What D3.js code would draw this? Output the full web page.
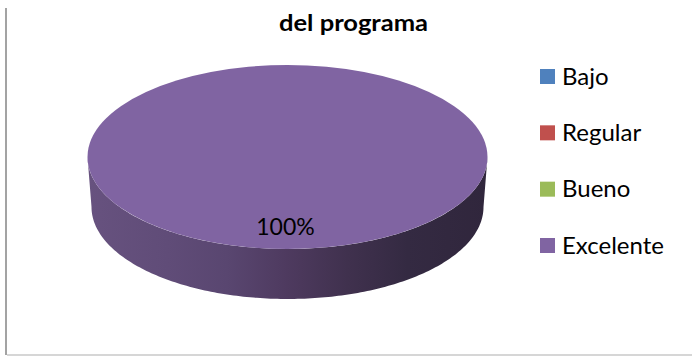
<!DOCTYPE html>
<html><head><meta charset="utf-8">
<script src="https://cdn.jsdelivr.net/npm/d3@7/dist/d3.min.js"></script>
<style>html,body{margin:0;padding:0;background:#fff}svg{display:block}text{font-family:Lato,"Open Sans",sans-serif;fill:#000}</style>
</head><body><svg id="c" width="692" height="356"></svg>
<script>
const categories = ["Bajo","Regular","Bueno","Excelente"];
const values = [0,0,0,100];
const colors = ["#4f81bd","#c0504d","#9bbb59","#8064a2"];
const titleText = "del programa";
const sideStops = [[0,"#67527f"],[0.2,"#604c78"],[0.35,"#594670"],[0.5,"#4e3a5f"],[0.65,"#40314e"],[0.8,"#342a42"],[1,"#30263c"]];

const W=692,H=356, cx=287.5, cy=157, rx=200, ry=92, rxBase=196, depth=50;
const svg=d3.select("#c");
const defs=svg.append("defs");
const grad=defs.append("linearGradient").attr("id","side").attr("x1",0).attr("x2",1).attr("y1",0).attr("y2",0);
sideStops.forEach(s=>grad.append("stop").attr("offset",s[0]).attr("stop-color",s[1]));

// frame
svg.append("line").attr("x1",6).attr("x2",6).attr("y1",8).attr("y2",355).attr("stroke","#a3a3a3").attr("stroke-width",2);
svg.append("line").attr("x1",7).attr("x2",W).attr("y1",355).attr("y2",355).attr("stroke","#c8c8c8").attr("stroke-width",1.5);

const pie=d3.pie().sort(null)(values);
const arc=d3.arc().innerRadius(0).outerRadius(rx);
const g=svg.append("g").attr("transform",`translate(${cx},${cy})`);

// side wall of the visible front half, tapering slightly towards the base
const ang=d3.range(0,181).map(d=>d*Math.PI/180);
const rim=ang.map(a=>[rx*Math.cos(a),ry*Math.sin(a)]);
const base=ang.slice().reverse().map(a=>[rxBase*Math.cos(a),ry*Math.sin(a)+depth]);
g.append("path").attr("d",d3.line().curve(d3.curveLinearClosed)(rim.concat(base))).attr("fill","url(#side)");

// top face from the pie layout
g.selectAll("path.slice").data(pie).join("path").attr("class","slice")
 .attr("transform",`scale(1,${ry/rx})`)
 .attr("d",arc).attr("fill",(d,i)=>colors[i]);

// label
pie.filter(d=>d.value>0).forEach(d=>{
  svg.append("text").attr("x",285.5).attr("y",235).attr("text-anchor","middle").attr("font-size",23).text(d3.format(".0%")(d.value/d3.sum(values)));
});

// title
svg.append("text").attr("x",279).attr("y",31).attr("font-size",23).attr("font-weight",700)
 .attr("textLength",149).attr("lengthAdjust","spacingAndGlyphs").text(titleText);

// legend
const ly=d3.scalePoint().domain(categories).range([76.5,245.5]);
const lg=svg.selectAll("g.l").data(categories).join("g").attr("class","l").attr("transform",d=>`translate(540,${ly(d)})`);
lg.append("rect").attr("y",-7.5).attr("width",15).attr("height",15).attr("fill",(d,i)=>colors[i]);
lg.append("text").attr("x",22).attr("y",8).attr("font-size",24).text(d=>d);
</script></body></html>
